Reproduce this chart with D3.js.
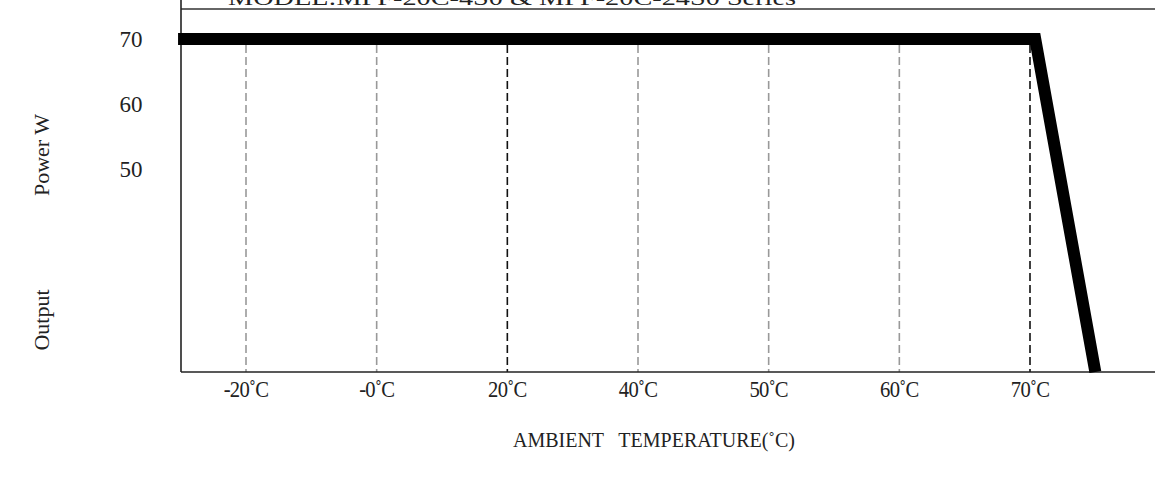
<!DOCTYPE html>
<html><head><meta charset="utf-8">
<script src="https://cdn.jsdelivr.net/npm/d3@7"></script>
<style>body{margin:0;background:#fff}svg{display:block}text{font-family:"Liberation Serif","DejaVu Serif",serif;fill:#222}</style>
</head><body>
<script>
const categories = ["-20˚C","-0˚C","20˚C","40˚C","50˚C","60˚C","70˚C"];
const gridDark = ["20˚C","70˚C"];
const yTicks = [50, 60, 70];
// derating curve: [category position index, output power W]
const curveIndex = [-0.52, 6.04, 6.5];
const curvePower = [70, 70, 18.8];
const titleText = "MODEL:MPF-20C-4S0 & MPF-20C-24S0 Series";
const xTitle = "AMBIENT   TEMPERATURE(˚C)";
const yTitleA = "Output";
const yTitleB = "Power W";

const W = 1155, H = 482;
const m = {left:181, right:0, top:9, bottom:110};
const svg = d3.select("body").append("svg").attr("width", W).attr("height", H);

const x = d3.scaleLinear().domain([0, 6]).range([246, 1030]);
const xc = d => x(categories.indexOf(d));
const y = d3.scaleLinear().domain([18.8, 74.6]).range([H - m.bottom, m.top]);
const y0 = H - m.bottom;

// grid lines
svg.append("g").selectAll("line").data(categories).join("line")
  .attr("x1", xc).attr("x2", xc)
  .attr("y1", y(70) + 6).attr("y2", y0)
  .attr("stroke", d => gridDark.includes(d) ? "#111" : "#999")
  .attr("stroke-width", 1.6)
  .attr("stroke-dasharray", "8,4");

// frame
svg.append("line").attr("x1", m.left).attr("x2", W).attr("y1", m.top).attr("y2", m.top).attr("stroke","#333").attr("stroke-width",1.6);
svg.append("line").attr("x1", m.left).attr("x2", m.left).attr("y1", 0).attr("y2", y0).attr("stroke","#222").attr("stroke-width",1.6);
svg.append("line").attr("x1", m.left).attr("x2", W).attr("y1", y0).attr("y2", y0).attr("stroke","#222").attr("stroke-width",1.6);

// x tick labels (condensed)
svg.append("g").selectAll("text").data(categories).join("text")
  .attr("transform", d => `translate(${xc(d)},${y0 + 25}) scale(0.86,1)`)
  .attr("text-anchor","middle")
  .attr("font-size", 24).attr("letter-spacing", -0.8).text(d => d);

// y tick labels
svg.append("g").selectAll("text").data(yTicks).join("text")
  .attr("x", 131).attr("y", d => y(d) + 8).attr("text-anchor","middle")
  .attr("font-size", 23).text(d => d);

// curve
const pts = curveIndex.map((c,i) => [x(c), y(curvePower[i])]);
svg.append("path").attr("d", d3.line()(pts))
  .attr("fill","none").attr("stroke","#000").attr("stroke-width", 12)
  .attr("stroke-linejoin","miter").attr("stroke-linecap","butt");

// titles
svg.append("text").attr("x", 228).attr("y", 5).attr("font-size", 22)
  .attr("textLength", 568).attr("lengthAdjust", "spacingAndGlyphs").text(titleText);
svg.append("text").attr("x", 654).attr("y", 447).attr("text-anchor","middle").attr("font-size", 20)
  .style("white-space","pre").attr("xml:space","preserve").text(xTitle);
const yt = svg.append("g").attr("transform","translate(49,0) rotate(-90)");
yt.append("text").attr("x", -320).attr("y", 0).attr("text-anchor","middle").attr("font-size", 22).text(yTitleA);
yt.append("text").attr("x", -155).attr("y", 0).attr("text-anchor","middle").attr("font-size", 22).text(yTitleB);
</script>
</body></html>
